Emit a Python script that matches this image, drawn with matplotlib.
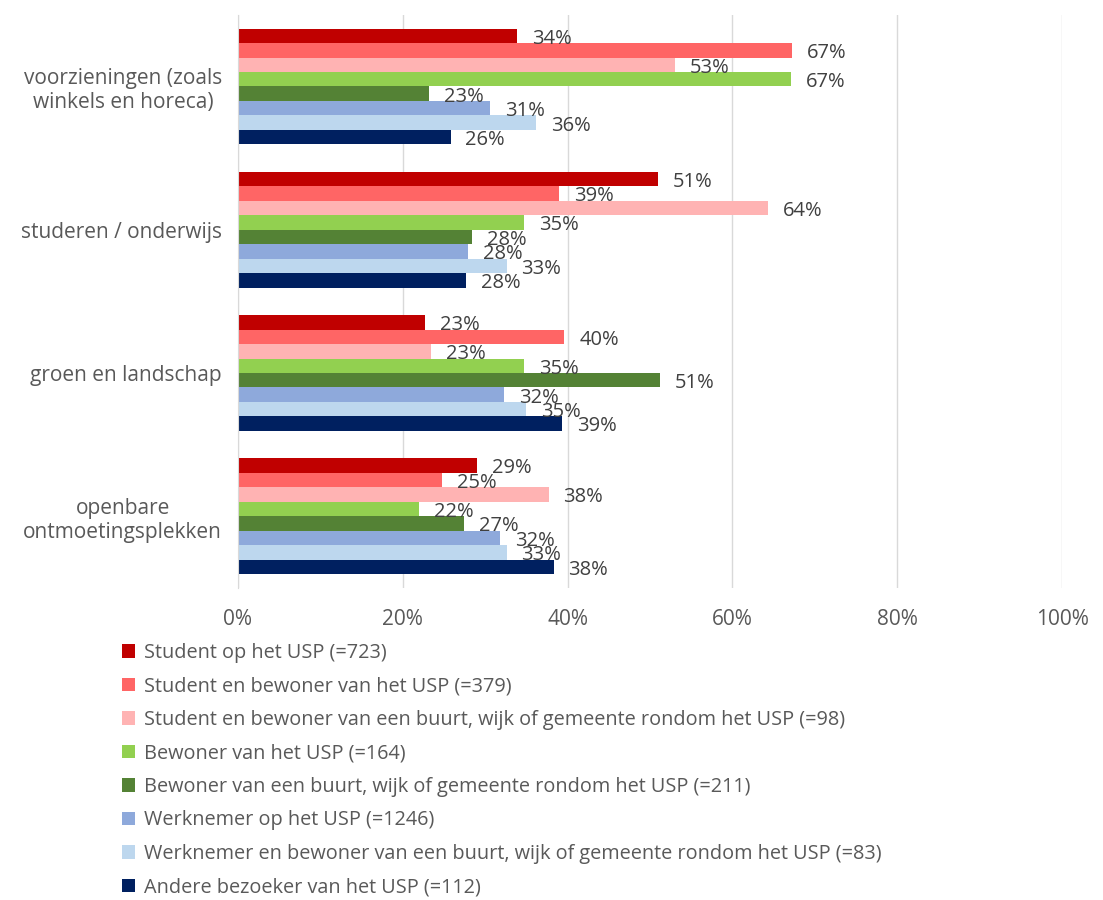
import matplotlib.pyplot as plt
import numpy as np

categories = ["voorzieningen (zoals\nwinkels en horeca)", "studeren / onderwijs",
              "groen en landschap", "openbare\nontmoetingsplekken"]
series = ["Student op het USP (=723)",
          "Student en bewoner van het USP (=379)",
          "Student en bewoner van een buurt, wijk of gemeente rondom het USP (=98)",
          "Bewoner van het USP (=164)",
          "Bewoner van een buurt, wijk of gemeente rondom het USP (=211)",
          "Werknemer op het USP (=1246)",
          "Werknemer en bewoner van een buurt, wijk of gemeente rondom het USP (=83)",
          "Andere bezoeker van het USP (=112)"]
# values per series, one value per category (fractions)
values = [
    [0.339, 0.510, 0.227, 0.290],
    [0.672, 0.390, 0.396, 0.248],
    [0.530, 0.643, 0.234, 0.377],
    [0.671, 0.347, 0.347, 0.220],
    [0.232, 0.284, 0.512, 0.274],
    [0.306, 0.279, 0.323, 0.318],
    [0.362, 0.326, 0.350, 0.326],
    [0.258, 0.277, 0.393, 0.383],
]
colors = ["#C00000", "#FF6565", "#FFB3B3", "#92D050", "#548235",
          "#8EA9DB", "#BDD7EE", "#002060"]

plt.rcParams['font.family'] = ['Open Sans', 'DejaVu Sans']
txt = "#595959"
fs = 15

fig = plt.figure(figsize=(11.03, 9), dpi=100)
ax = fig.add_axes([238/1103, 1-588/900, (1062-238)/1103, (588-15)/900])

n = len(series)
h = 0.101
y = np.arange(len(categories))
for i, (s, v, c) in enumerate(zip(series, values, colors)):
    pos = y - 0.405 + h*(i+0.5)
    ax.barh(pos, v, height=h, color=c, label=s)
    for p, val in zip(pos, v):
        ax.text(val+0.018, p+0.02, "%d%%" % round(val*100), va="center", ha="left",
                fontsize=14.5, color="#404040")

ax.set_xlim(0, 1)
ax.set_ylim(3.5, -0.5)
ax.set_xticks(np.arange(0, 1.01, 0.2))
ax.set_xticklabels(["%d%%" % (t*100) for t in np.arange(0, 1.01, 0.2)])
ax.set_yticks(y)
ax.set_yticklabels(categories, multialignment="center")
ax.tick_params(length=0, labelsize=fs, colors=txt)
ax.tick_params(axis="y", pad=11.5)
ax.tick_params(axis="x", pad=15)
ax.grid(axis="x", color="#D9D9D9", linewidth=1)
ax.set_axisbelow(True)
for sp in ["top", "right", "bottom"]:
    ax.spines[sp].set_visible(False)
ax.spines["left"].set_color("#D9D9D9")

leg = fig.legend(loc="upper left", bbox_to_anchor=(114/1103, 1-635/900), frameon=False,
                 fontsize=14.3, handlelength=0.65, handleheight=0.65, handletextpad=0.45,
                 labelspacing=0.68, borderaxespad=0)
for t in leg.get_texts():
    t.set_color(txt)

fig.savefig("out.png", dpi=100)
